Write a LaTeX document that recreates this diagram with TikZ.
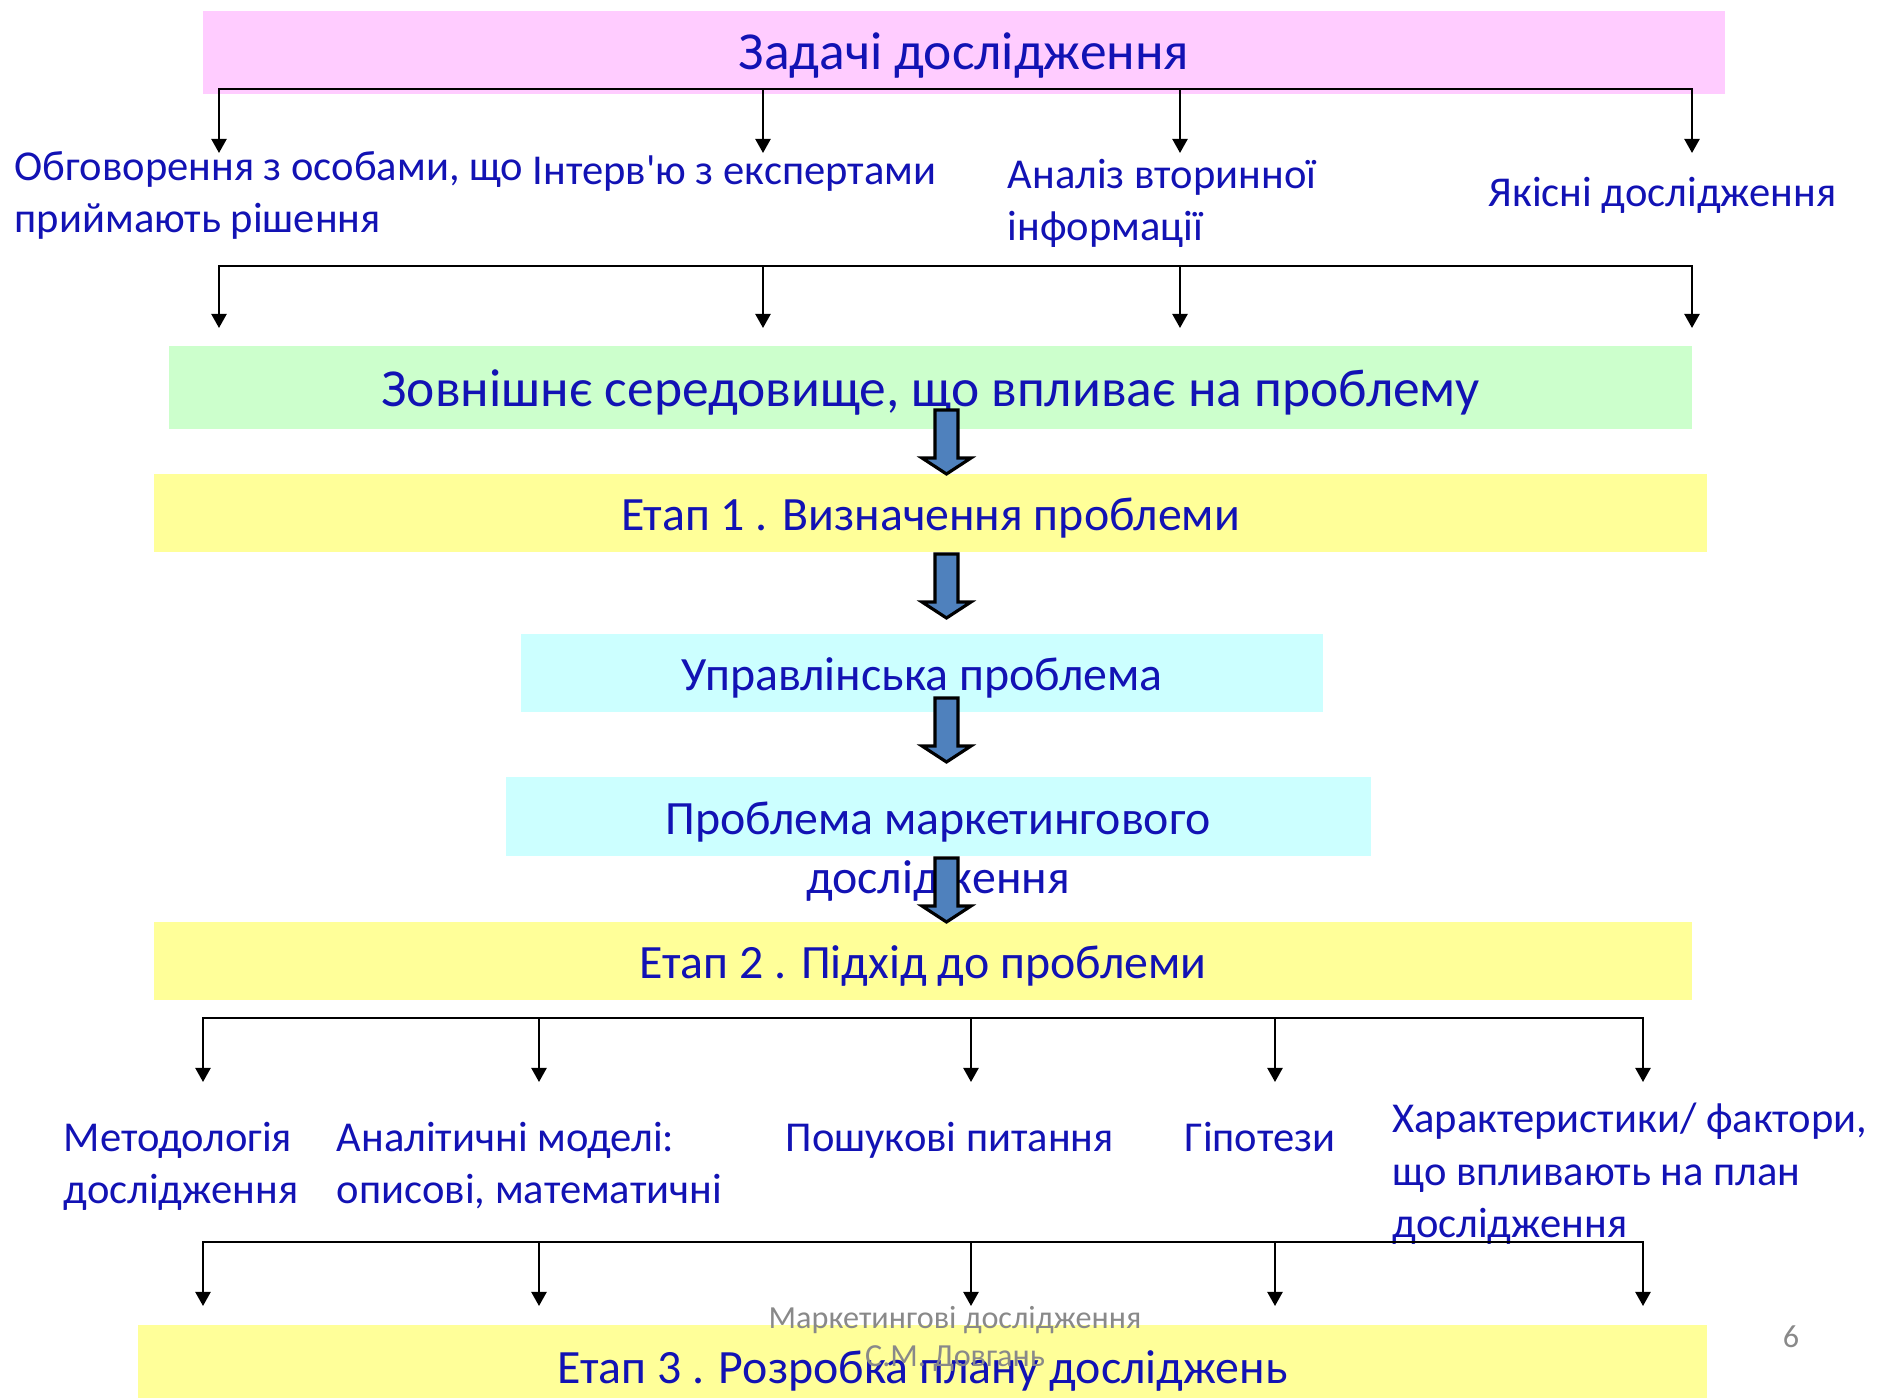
\documentclass[tikz,border=0pt]{standalone}
\usepackage{fontspec}
\setmainfont[Ligatures=TeXOff]{Carlito}
\usetikzlibrary{arrows.meta, positioning}

\definecolor{txtblue}{RGB}{18,18,180}
\definecolor{pinkfill}{RGB}{255,204,255}
\definecolor{greenfill}{RGB}{204,255,204}
\definecolor{yellowfill}{RGB}{255,255,153}
\definecolor{cyanfill}{RGB}{204,255,255}
\definecolor{arrowfill}{RGB}{79,129,189}
\definecolor{footgray}{RGB}{137,137,137}

\newcommand{\headfont}{\fontsize{15.2}{18}\selectfont}
\newcommand{\stagefont}{\fontsize{13.6}{16.8}\selectfont}
\newcommand{\itemfont}{\fontsize{12.1}{15}\selectfont}
\newcommand{\footfont}{\fontsize{9.15}{10.9}\selectfont}

% fat blue arrow: #1 top, #2 tip
\newcommand{\blockdown}[2]{%
  \draw[blockarrow] (935,#1) -- (958,#1) -- (958,{#2-16}) -- (971,{#2-16})
    -- (946.5,#2) -- (922,{#2-16}) -- (935,{#2-16}) -- cycle;}

\begin{document}
\begin{tikzpicture}[
x=0.01cm, y=-0.01cm,
box/.style={rectangle, inner sep=0pt, anchor=base, text=txtblue},
item/.style={anchor=base west, inner sep=0pt, align=left, text=txtblue, font=\itemfont},
arrow/.style={-{Triangle[length=4pt,width=4.3pt]}, line width=0.6pt},
bus/.style={line width=0.6pt, line cap=rect},
blockarrow/.style={draw=black, line width=0.9pt, fill=arrowfill}
]
\useasboundingbox (0,0) rectangle (1884,1398);

\node[box, fill=pinkfill, minimum width=15.22cm, text height=0.59cm, text depth=0.24cm, font=\headfont] (tasks) at (964,70) {Задачі дослідження};

% first row of research tasks
\node[item] (talks) at (14,233) {Обговорення з особами, що\\приймають рішення};
\node[item] (interv) at (532,185) {Інтерв'ю з експертами};
\node[item] (second) at (1007,241) {Аналіз вторинної\\інформації};
\node[item] (qual) at (1488,207) {Якісні дослідження};

\coordinate (b1a) at (219,89);
\coordinate (b1b) at (763,89);
\coordinate (b1c) at (1180,89);
\coordinate (b1d) at (1692,89);
\coordinate (e1a) at (219,153);
\coordinate (e1b) at (763,153);
\coordinate (e1c) at (1180,153);
\coordinate (e1d) at (1692,153);
\draw[bus] (b1a) -- (b1d);
\draw[arrow] (b1a) -- (e1a);
\draw[arrow] (b1b) -- (e1b);
\draw[arrow] (b1c) -- (e1c);
\draw[arrow] (b1d) -- (e1d);

\coordinate (b2a) at (219,266);
\coordinate (b2b) at (763,266);
\coordinate (b2c) at (1180,266);
\coordinate (b2d) at (1692,266);
\coordinate (e2a) at (219,328);
\coordinate (e2b) at (763,328);
\coordinate (e2c) at (1180,328);
\coordinate (e2d) at (1692,328);
\draw[bus] (b2a) -- (b2d);
\draw[arrow] (b2a) -- (e2a);
\draw[arrow] (b2b) -- (e2b);
\draw[arrow] (b2c) -- (e2c);
\draw[arrow] (b2d) -- (e2d);

\node[box, fill=greenfill, minimum width=15.23cm, text height=0.61cm, text depth=0.22cm, font=\headfont] (env) at (930.5,407) {Зовнішнє середовище, що впливає на проблему};
\node[box, fill=yellowfill, minimum width=15.53cm, text height=0.57cm, text depth=0.21cm, font=\stagefont] (stage1) at (930.5,531) {Етап 1 . Визначення проблеми};
\node[box, fill=cyanfill, minimum width=8.02cm, text height=0.57cm, text depth=0.21cm, font=\stagefont] (mgmt) at (922,691) {Управлінська проблема};
\node[fill=cyanfill, inner sep=0pt, minimum width=8.65cm, minimum height=0.79cm] (mktbox) at (938.5,816.5) {};
\node[box, align=center, font=\stagefont] (mkt) at (938,894) {Проблема маркетингового\\дослідження};
\node[box, fill=yellowfill, minimum width=15.38cm, text height=0.57cm, text depth=0.21cm, font=\stagefont] (stage2) at (923,979) {Етап 2 . Підхід до проблеми};

\blockdown{410}{474}
\blockdown{554}{618}
\blockdown{698}{762}
\blockdown{858}{922}

% second row: approach to the problem
\node[item] (method) at (63,1204) {Методологія\\дослідження};
\node[item] (models) at (336,1204) {Аналітичні моделі:\\описові, математичні};
\node[item] (quest) at (785,1152) {Пошукові питання};
\node[item] (hypo) at (1184,1152) {Гіпотези};
\node[item] (factors) at (1392,1238) {Характеристики/ фактори,\\що впливають на план\\дослідження};

\coordinate (b3a) at (203,1018);
\coordinate (b3b) at (539,1018);
\coordinate (b3c) at (971,1018);
\coordinate (b3d) at (1275,1018);
\coordinate (b3e) at (1643,1018);
\coordinate (e3a) at (203,1082);
\coordinate (e3b) at (539,1082);
\coordinate (e3c) at (971,1082);
\coordinate (e3d) at (1275,1082);
\coordinate (e3e) at (1643,1082);
\draw[bus] (b3a) -- (b3e);
\draw[arrow] (b3a) -- (e3a);
\draw[arrow] (b3b) -- (e3b);
\draw[arrow] (b3c) -- (e3c);
\draw[arrow] (b3d) -- (e3d);
\draw[arrow] (b3e) -- (e3e);

\coordinate (b4a) at (203,1242);
\coordinate (b4b) at (539,1242);
\coordinate (b4c) at (971,1242);
\coordinate (b4d) at (1275,1242);
\coordinate (b4e) at (1643,1242);
\coordinate (e4a) at (203,1306);
\coordinate (e4b) at (539,1306);
\coordinate (e4c) at (971,1306);
\coordinate (e4d) at (1275,1306);
\coordinate (e4e) at (1643,1306);
\draw[bus] (b4a) -- (b4e);
\draw[arrow] (b4a) -- (e4a);
\draw[arrow] (b4b) -- (e4b);
\draw[arrow] (b4c) -- (e4c);
\draw[arrow] (b4d) -- (e4d);
\draw[arrow] (b4e) -- (e4e);

\node[box, fill=yellowfill, minimum width=15.69cm, text height=0.59cm, text depth=0.14cm, font=\stagefont] (stage3) at (922.5,1384) {Етап 3 . Розробка плану досліджень};

% slide footer
\node[box, align=center, text=footgray, font=\footfont] (foot) at (955,1367) {Маркетингові дослідження\\С.М. Довгань};
\node[box, text=footgray, font=\footfont] (page) at (1791,1348) {6};
\end{tikzpicture}
\end{document}
